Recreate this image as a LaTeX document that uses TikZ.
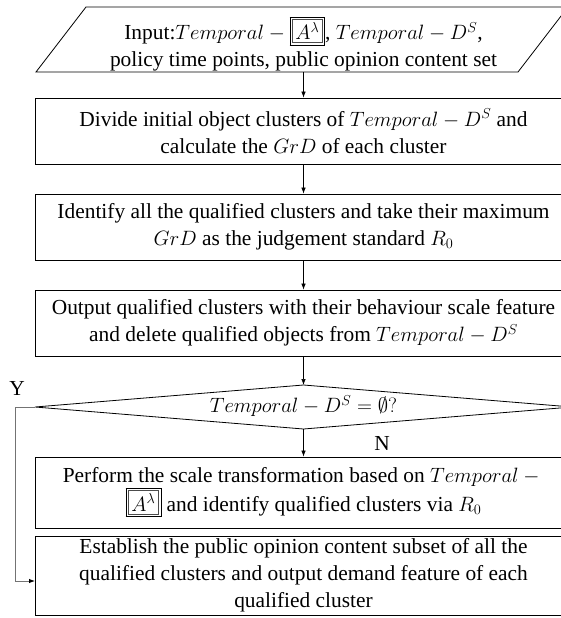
\documentclass[tikz,border=0pt]{standalone}
\usepackage{fontspec}
\setmainfont{Liberation Serif}
\usetikzlibrary{arrows.meta,calc}

% double-framed symbol used for the adjacency term
\newcommand{\dframe}[1]{{\setlength{\fboxsep}{1.8pt}\setlength{\fboxrule}{0.7pt}%
  \fcolorbox{black}{white}{\setlength{\fboxsep}{2.6pt}\fcolorbox{black!70}{white}{$#1$}}}}

\begin{document}
\begin{tikzpicture}[x=1pt,y=-1pt,
  font=\fontsize{21.4}{27}\selectfont,
  box/.style={draw, line width=0.8pt, minimum width=537pt, align=center, inner sep=0pt},
  flow/.style={draw, line width=0.7pt, -{Latex[length=6pt,width=4.5pt]}},
  yflow/.style={draw=black!55, line width=0.9pt, -{Latex[length=6pt,width=4.5pt,color=black]}}]
\useasboundingbox (0,0) rectangle (561,618);
\fill[white] (0,0) rectangle (561,618);

% input parallelogram
\draw[line width=0.8pt] (36,72) -- (86,7) -- (568,7) -- (518,72) -- cycle;
\node[align=center, inner sep=0pt] (inp) at (303.5,44)
  {Input:$Temporal-\dframe{A^{\lambda}}$, $Temporal-D^S$,\\policy time points, public opinion content set};
\coordinate (inb) at (303.5,72);

% process boxes
\node[box, minimum height=66pt] (b1) at (303.5,131)
  {Divide initial object clusters of $Temporal-D^S$ and\\calculate the $GrD$ of each cluster};
\node[box, minimum height=66pt] (b2) at (303.5,227)
  {Identify all the qualified clusters and take their maximum\\$GrD$ as the judgement standard $R_0$};
\node[box, minimum height=66pt] (b3) at (303.5,323)
  {Output qualified clusters with their behaviour scale feature\\and delete qualified objects from $Temporal-D^S$};

% decision
\coordinate (dtop) at (303.5,385);
\coordinate (dbot) at (303.5,429);
\coordinate (dleft) at (35,407);
\coordinate (dright) at (572,407);
\draw[line width=0.8pt] (dtop) -- (dright) -- (dbot) -- (dleft) -- cycle;
\node[inner sep=0pt] (dec) at (303.5,406) {$Temporal-D^S=\emptyset?$};

\node[box, minimum height=71pt] (b4) at (303.5,492.5)
  {Perform the scale transformation based on $Temporal-{}$\\\dframe{A^{\lambda}} and identify qualified clusters via $R_0$};
\node[box, minimum height=79pt] (b5) at (303.5,575.5)
  {Establish the public opinion content subset of all the\\qualified clusters and output demand feature of each\\qualified cluster};
\coordinate (yin) at (35,581);

% branch labels
\node (ylab) at (17,388) {Y};
\node (nlab) at (382,443) {N};

% connectors
\draw[flow] (inb) -- (b1.north);
\draw[flow] (b1.south) -- (b2.north);
\draw[flow] (b2.south) -- (b3.north);
\draw[flow] (b3.south) -- (dtop);
\draw[flow] (dbot) -- (b4.north);
\draw[yflow] (dleft) -- ++(-20,0) |- (yin);
\end{tikzpicture}
\end{document}
